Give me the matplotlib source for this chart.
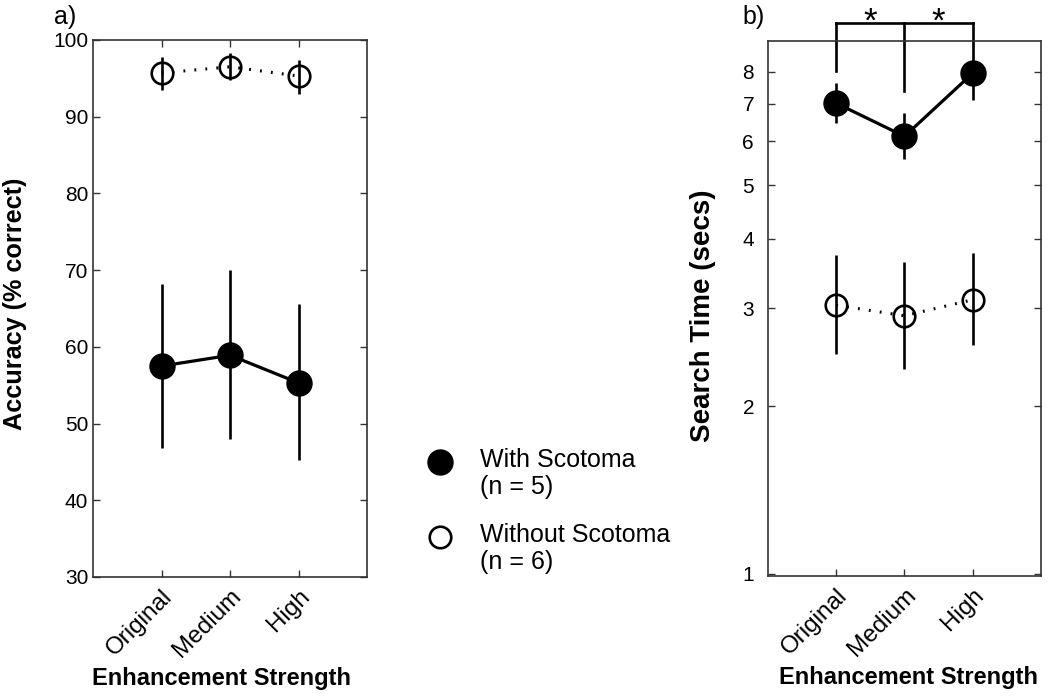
import numpy as np
import matplotlib
matplotlib.use("Agg")
import matplotlib.pyplot as plt
from matplotlib.ticker import FixedLocator, NullLocator

plt.rcParams['font.family'] = ['Liberation Sans', 'DejaVu Sans']

# Datos
condiciones = ["Original", "Medium", "High"]
x = np.array([1, 2, 3])

# Panel a) precisión (% correcto)
acc_con = [57.5, 58.9, 55.3]
acc_con_sup = [68.2, 70.0, 65.6]
acc_con_inf = [46.8, 48.0, 45.2]
acc_sin = [95.7, 96.5, 95.3]
acc_sin_sup = [97.8, 98.3, 97.4]
acc_sin_inf = [93.5, 94.8, 93.0]

# Panel b) tiempo de búsqueda (s)
tiempo_con = [7.02, 6.12, 7.95]
tiempo_con_sup = [7.63, 6.74, 8.85]
tiempo_con_inf = [6.48, 5.57, 7.11]
tiempo_sin = [3.04, 2.91, 3.11]
tiempo_sin_sup = [3.74, 3.64, 3.78]
tiempo_sin_inf = [2.48, 2.33, 2.58]

# Corchete de significancia: altura y fin de cada pata
corchete_y = 9.8
corchete_patas = [8.03, 7.37, 8.9]

fig = plt.figure(figsize=(10.5, 6.96), dpi=100)
ax1 = fig.add_axes([0.0886, 0.171, 0.261, 0.7716])
ax2 = fig.add_axes([0.7314, 0.1724, 0.260, 0.7693])

color_eje = '#333333'


def dibujar(ax, con, con_sup, con_inf, sin, sin_sup, sin_inf):
    ax.vlines(x, con_inf, con_sup, color='black', lw=1.9, zorder=2)
    ax.vlines(x, sin_inf, sin_sup, color='black', lw=1.9, zorder=2)
    ax.plot(x, con, color='black', lw=2.3, zorder=1)
    ax.plot(x, sin, color='black', lw=2.2, ls=(0, (0.6, 3.0)), zorder=1)
    ax.plot(x, con, 'o', ms=18, mfc='black', mec='black', zorder=3)
    ax.plot(x, sin, 'o', ms=15.5, mfc='none', mec='black', mew=1.9, zorder=3)
    ax.set_xlim(0, 4)
    ax.xaxis.set_major_locator(FixedLocator(x))
    ax.tick_params(direction='in', top=True, right=True, length=5, width=1, colors=color_eje,
                   labelcolor='black', labelsize=15)
    ax.set_xticklabels(condiciones, rotation=45, ha='right', rotation_mode='anchor', fontsize=17.5)
    ax.tick_params(axis='x', pad=6)
    for s in ax.spines.values():
        s.set_color(color_eje)
        s.set_linewidth(1.2)
    ax.set_xlabel("Enhancement Strength", fontsize=17, fontweight='bold')


dibujar(ax1, acc_con, acc_con_sup, acc_con_inf, acc_sin, acc_sin_sup, acc_sin_inf)
ax1.set_ylim(30, 100)
ax1.set_yticks([30, 40, 50, 60, 70, 80, 90, 100])
ax1.set_ylabel("Accuracy (% correct)", fontsize=18.2, fontweight='bold')
ax1.yaxis.set_label_coords(-0.24, 0.508)
ax1.xaxis.set_label_coords(0.47, -0.168)

dibujar(ax2, tiempo_con, tiempo_con_sup, tiempo_con_inf, tiempo_sin, tiempo_sin_sup, tiempo_sin_inf)
ax2.set_yscale('log')
ax2.set_ylim(0.99, 9.1)
ax2.yaxis.set_major_locator(FixedLocator([1, 2, 3, 4, 5, 6, 7, 8]))
ax2.yaxis.set_minor_locator(NullLocator())
ax2.set_yticklabels(['1', '2', '3', '4', '5', '6', '7', '8'])
ax2.tick_params(axis='y', pad=10)
ax2.set_ylabel("Search Time (secs)", fontsize=20, fontweight='bold')
ax2.yaxis.set_label_coords(-0.19, 0.486)
ax2.xaxis.set_label_coords(0.516, -0.168)

# Corchete de significancia
ax2.plot([1, 3], [corchete_y, corchete_y], color='black', lw=1.9, clip_on=False)
for xi, fin in zip(x, corchete_patas):
    ax2.plot([xi, xi], [corchete_y, fin], color='black', lw=1.9, clip_on=False)
for xa in [1.5, 2.5]:
    ax2.text(xa, 9.45, "*", ha='center', va='baseline', fontsize=25)

fig.text(0.051, 0.993, "a)", fontsize=18, va='top')
fig.text(0.707, 0.993, "b)", fontsize=18, va='top')

# Leyenda manual
fig.lines.append(plt.Line2D([0.419], [1 - 462 / 696], marker='o', ms=18, mfc='black', mec='black',
                            transform=fig.transFigure, ls='none'))
fig.lines.append(plt.Line2D([0.419], [1 - 537 / 696], marker='o', ms=15.5, mfc='none', mec='black',
                            mew=1.9, transform=fig.transFigure, ls='none'))
fig.text(0.457, 1 - 448 / 696, "With Scotoma\n(n = 5)", fontsize=18, va='top', linespacing=1.15)
fig.text(0.457, 1 - 523 / 696, "Without Scotoma\n(n = 6)", fontsize=18, va='top', linespacing=1.15)

fig.savefig("out.png", dpi=100)
